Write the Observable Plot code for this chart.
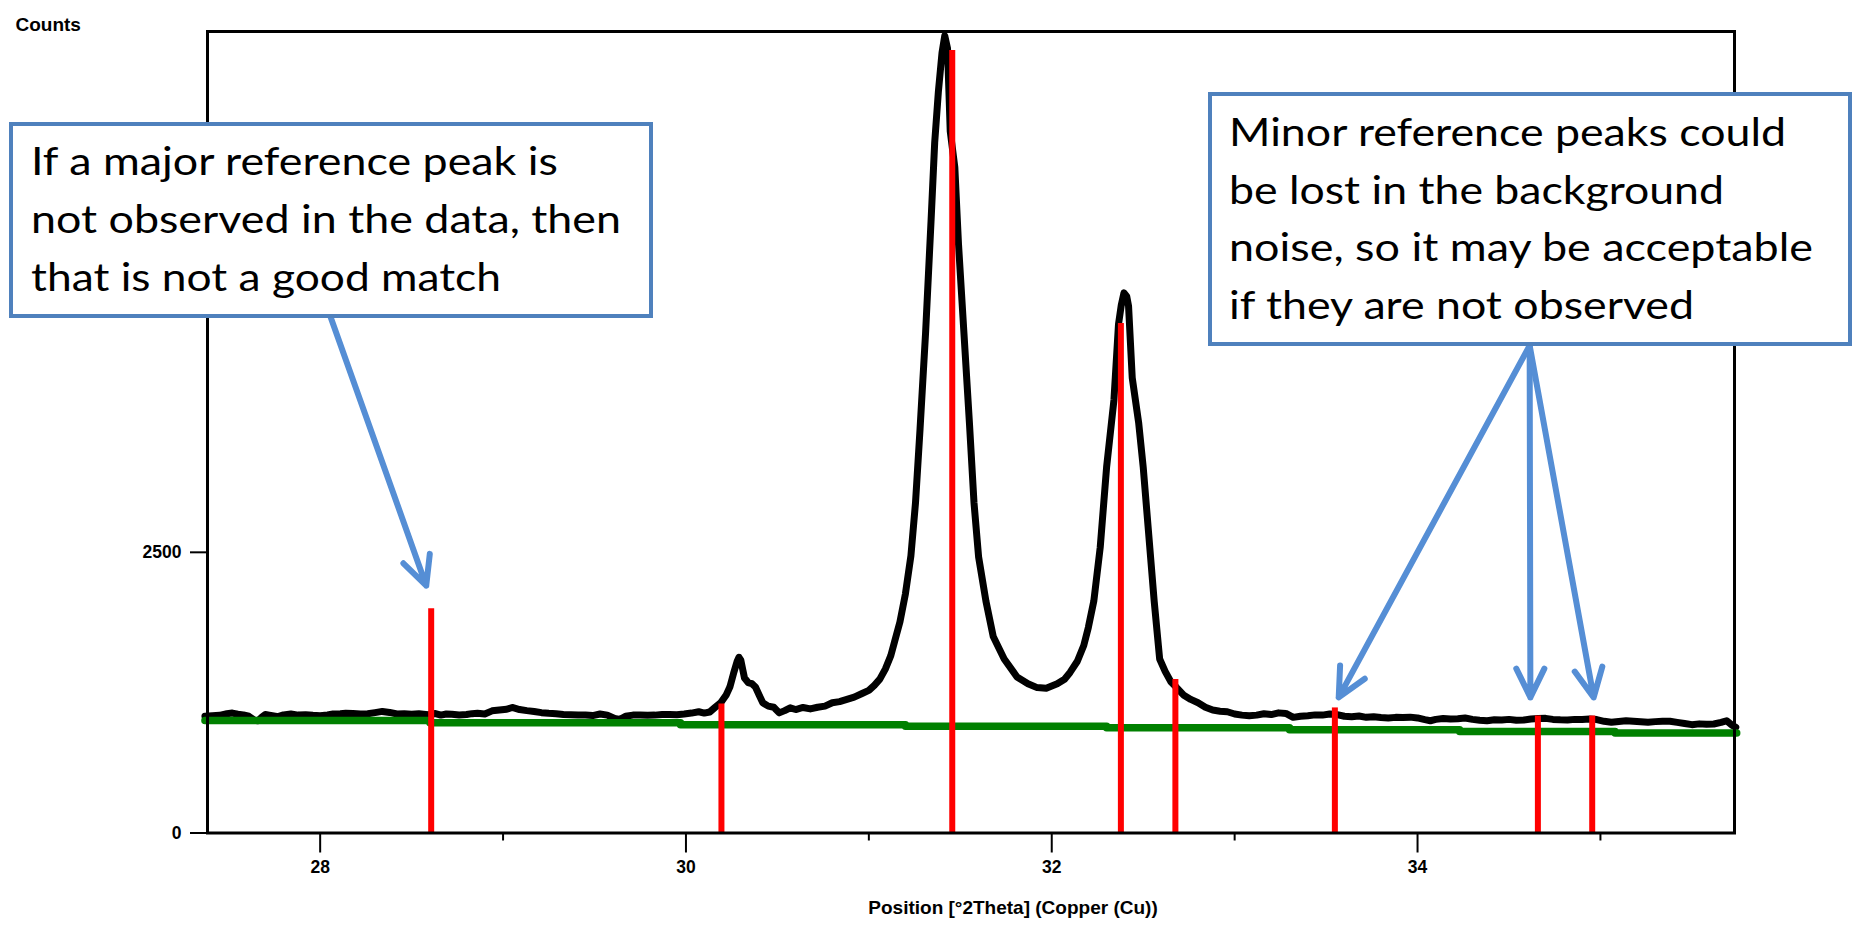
<!DOCTYPE html>
<html><head><meta charset="utf-8">
<script src="https://cdn.jsdelivr.net/npm/d3@7"></script>
<script src="https://cdn.jsdelivr.net/npm/@observablehq/plot@0.6"></script>
<style>
html,body{margin:0;padding:0;background:#fff;}
#wrap{position:relative;width:1856px;height:925px;overflow:hidden;}
#wrap svg.ov{position:absolute;left:0;top:0;}
</style></head><body><div id="wrap"></div>
<script>
// Measured diffraction pattern (°2θ, counts)
const twoTheta = [27.37,27.41,27.45,27.49,27.52,27.55,27.58,27.61,27.64,27.66,27.68,27.70,27.73,27.77,27.80,27.84,27.88,27.92,27.96,28.00,
28.04,28.07,28.11,28.14,28.18,28.22,28.26,28.30,28.34,28.38,28.42,28.46,28.50,28.54,28.59,28.63,28.66,28.69,28.72,28.76,
28.80,28.83,28.86,28.90,28.94,28.98,29.02,29.05,29.09,29.13,29.17,29.21,29.25,29.29,29.33,29.37,29.41,29.45,29.49,29.53,
29.57,29.61,29.64,29.67,29.71,29.75,29.79,29.83,29.87,29.91,29.95,29.99,30.03,30.07,30.10,30.13,30.16,30.19,30.22,30.24,
30.26,30.28,30.29,30.30,30.31,30.32,30.34,30.36,30.38,30.40,30.42,30.45,30.48,30.51,30.54,30.57,30.60,30.64,30.68,30.72,
30.76,30.80,30.84,30.88,30.92,30.96,31.00,31.03,31.06,31.09,31.12,31.14,31.17,31.20,31.23,31.255,31.28,31.31,31.34,31.36,
31.38,31.40,31.415,31.43,31.445,31.47,31.49,31.52,31.55,31.575,31.60,31.64,31.68,31.74,31.81,31.87,31.92,31.97,32.03,32.07,
32.10,32.14,32.175,32.20,32.23,32.265,32.30,32.34,32.365,32.38,32.395,32.41,32.42,32.44,32.475,32.50,32.53,32.56,32.59,32.62,
32.65,32.68,32.72,32.76,32.80,32.84,32.88,32.92,32.96,33.00,33.04,33.08,33.12,33.16,33.20,33.24,33.28,33.32,33.36,33.40,
33.44,33.48,33.52,33.56,33.60,33.64,33.68,33.72,33.76,33.80,33.84,33.88,33.92,33.96,34.00,34.04,34.07,34.10,34.14,34.18,
34.22,34.26,34.30,34.34,34.38,34.42,34.46,34.50,34.54,34.58,34.62,34.66,34.70,34.74,34.78,34.82,34.86,34.90,34.94,34.98,
35.02,35.06,35.10,35.14,35.18,35.22,35.26,35.30,35.34,35.38,35.42,35.46,35.50,35.54,35.58,35.62,35.66,35.69,35.72,35.74];
const counts = [1040,1045,1048,1062,1068,1058,1052,1040,1005,1000,1030,1055,1048,1036,1052,1060,1050,1054,1048,1045,
1052,1060,1062,1066,1064,1060,1062,1072,1083,1074,1060,1062,1058,1062,1054,1064,1050,1060,1058,1052,
1055,1063,1066,1060,1088,1095,1102,1118,1100,1090,1082,1072,1066,1062,1056,1054,1050,1052,1046,1060,
1050,1020,1012,1040,1050,1052,1048,1050,1055,1056,1054,1060,1068,1080,1068,1078,1120,1160,1230,1300,
1420,1530,1565,1540,1460,1380,1340,1330,1300,1230,1160,1130,1120,1070,1090,1115,1100,1118,1105,1120,
1130,1160,1170,1190,1210,1240,1270,1315,1370,1460,1580,1700,1880,2130,2470,2940,3600,4450,5450,6150,
6600,6950,7100,6990,6250,5930,5250,4450,3650,2940,2460,2066,1750,1550,1390,1330,1295,1290,1330,1370,
1430,1530,1670,1830,2066,2544,3260,3856,4532,4700,4811,4780,4692,4056,3657,3260,2663,2066,1550,1440,
1350,1300,1230,1190,1160,1120,1095,1085,1080,1060,1050,1045,1050,1062,1055,1070,1065,1030,1040,1045,
1052,1050,1060,1055,1040,1036,1042,1030,1035,1028,1024,1030,1028,1032,1025,1010,1000,1012,1020,1015,
1018,1024,1012,1005,1000,1008,1006,1012,1004,1006,1015,1020,1021,1012,1008,1006,1012,1010,1015,1010,
995,986,994,1000,995,990,986,992,996,995,985,975,965,972,968,971,985,1000,960,941];

// Fitted background (step segments)
const bgTheta  = [27.37,28.60,29.97,31.20,32.30,33.30,34.23,35.08,35.745];
const bgCounts = [1003,982,965,950,937,920,905,890,890];

// Reference pattern sticks
const refTheta     = [28.607,30.194,31.456,32.378,32.676,33.548,34.658,34.955];
const refIntensity = [1998,1150,6970,4538,1368,1114,1042,1042];

// Axis ticks
const xTicks = [28,30,32,34];
const xMinorTicks = [29,31,33,35];
const yTicks = [0,2500];
const xTitle = "Position [°2Theta] (Copper (Cu))";
const yTitle = "Counts";

// Annotation arrows (data coordinates)
const arrowFromX = [28.056,34.613,34.613,34.613];
const arrowFromY = [4600,4342,4342,4342];
const arrowToX   = [28.580,33.569,34.617,34.963];
const arrowToY   = [2203,1208,1208,1208];

// Callout texts
const leftNote  = ["If a major reference peak is","not observed in the data, then","that is not a good match"];
const rightNote = ["Minor reference peaks could","be lost in the background","noise, so it may be acceptable","if they are not observed"];

const scan = twoTheta.map((x,i)=>({x, y: counts[i]}));
const bg = bgTheta.map((x,i)=>({x, y: bgCounts[i]}));
const refs = refTheta.map((x,i)=>({x, y: refIntensity[i]}));
const arrows = arrowFromX.map((x1,i)=>({x1, y1: arrowFromY[i], x2: arrowToX[i], y2: arrowToY[i]}));

const chart = Plot.plot({
  width:1856, height:925,
  marginLeft:207, marginRight:122, marginTop:31, marginBottom:92.5,
  x:{domain:[27.384,35.733]},
  y:{domain:[0,7139]},
  style:{fontFamily:"'Liberation Sans', Arial, sans-serif", fontSize:"17.5px", fontWeight:"bold", color:"black", background:"white", overflow:"visible"},
  marks:[
    Plot.line(scan,{x:"x",y:"y",stroke:"black",strokeWidth:7,strokeLinejoin:"round"}),
    Plot.line(bg,{x:"x",y:"y",stroke:"#008000",strokeWidth:7.5,curve:"step-after"}),
    Plot.ruleX(refs,{x:"x",y1:0,y2:"y",stroke:"#ff0000",strokeWidth:6}),
    Plot.frame({stroke:"black",strokeWidth:3}),
    Plot.axisX({ticks:xTicks,tickSize:20,tickPadding:8,tickFormat:d=>String(d),label:null,strokeWidth:2}),
    Plot.axisX({ticks:xMinorTicks,tickSize:8,tickFormat:()=>"",label:null,strokeWidth:2}),
    Plot.axisY({ticks:yTicks,tickSize:17,tickPadding:9,tickFormat:d=>String(d),label:null,strokeWidth:2}),
    Plot.text([yTitle],{frameAnchor:"top-left",text:d=>d,dx:-192,dy:-14,textAnchor:"start",fontSize:19}),
    Plot.text([xTitle],{frameAnchor:"bottom",text:d=>d,dx:42,dy:81,fontSize:19}),
    Plot.arrow(arrows,{x1:"x1",y1:"y1",x2:"x2",y2:"y2",stroke:"#558ED5",strokeWidth:6,headLength:8,headAngle:52,strokeLinecap:"round",strokeLinejoin:"round"})
  ]
});
const wrap = document.getElementById("wrap");
wrap.appendChild(chart);

// Callout boxes overlay
const ns = "http://www.w3.org/2000/svg";
const ov = document.createElementNS(ns,"svg");
ov.setAttribute("class","ov");
ov.setAttribute("width",1856); ov.setAttribute("height",925);
function box(x,y,w,h,lines,tx,baselines,widths){
  const r = document.createElementNS(ns,"rect");
  r.setAttribute("x",x); r.setAttribute("y",y); r.setAttribute("width",w); r.setAttribute("height",h);
  r.setAttribute("fill","white"); r.setAttribute("stroke","#4F81BD"); r.setAttribute("stroke-width",4);
  ov.appendChild(r);
  lines.forEach((s,i)=>{
    const t = document.createElementNS(ns,"text");
    t.setAttribute("x",tx); t.setAttribute("y",baselines[i]);
    t.setAttribute("font-family","Lato, 'Open Sans', sans-serif");
    t.setAttribute("font-size",39);
    t.setAttribute("fill","black");
    t.setAttribute("textLength",widths[i]);
    t.setAttribute("lengthAdjust","spacingAndGlyphs");
    t.textContent = s;
    ov.appendChild(t);
  });
}
box(11,124,640,192,leftNote,31,[175,233,290.5],[527,590,470]);
box(1210,94,640,250,rightNote,1229,[146,203.5,261,318.5],[557,495,584,465]);
wrap.appendChild(ov);
</script></body></html>
